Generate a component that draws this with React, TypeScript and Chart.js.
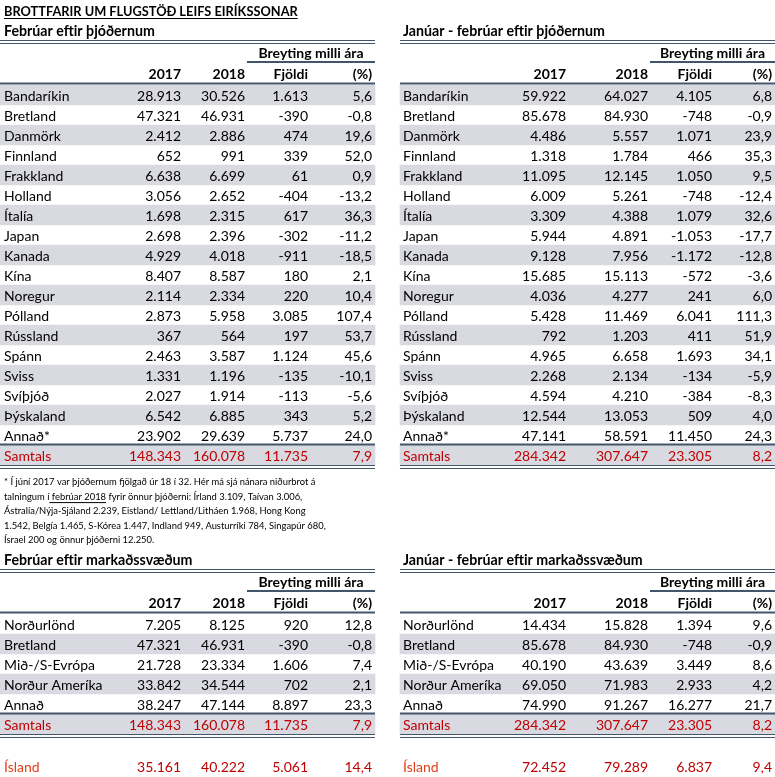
import React, { useEffect, useRef } from "react";
import { Chart, registerables } from "chart.js";

Chart.register(...registerables);

// ---------- DATA ----------
const TITLE = "BROTTFARIR UM FLUGSTÖÐ LEIFS EIRÍKSSONAR";
const SECTION_TITLES = [
  ["Febrúar eftir þjóðernum", "Janúar - febrúar eftir þjóðernum"],
  ["Febrúar eftir markaðssvæðum", "Janúar - febrúar eftir markaðssvæðum"],
];
const CHANGE_HEADER = "Breyting milli ára";
const COLUMN_HEADERS = ["2017", "2018", "Fjöldi", "(%)"];
const TOTAL_LABEL = "Samtals";
const ICELAND_LABEL = "Ísland";

const nationalities = [
  "Bandaríkin", "Bretland", "Danmörk", "Finnland", "Frakkland", "Holland", "Ítalía",
  "Japan", "Kanada", "Kína", "Noregur", "Pólland", "Rússland", "Spánn", "Sviss",
  "Svíþjóð", "Þýskaland", "Annað*",
];
const febNat2017 = [28913, 47321, 2412, 652, 6638, 3056, 1698, 2698, 4929, 8407, 2114, 2873, 367, 2463, 1331, 2027, 6542, 23902];
const febNat2018 = [30526, 46931, 2886, 991, 6699, 2652, 2315, 2396, 4018, 8587, 2334, 5958, 564, 3587, 1196, 1914, 6885, 29639];
const febNatDiff = [1613, -390, 474, 339, 61, -404, 617, -302, -911, 180, 220, 3085, 197, 1124, -135, -113, 343, 5737];
const febNatPct = [5.6, -0.8, 19.6, 52.0, 0.9, -13.2, 36.3, -11.2, -18.5, 2.1, 10.4, 107.4, 53.7, 45.6, -10.1, -5.6, 5.2, 24.0];
const febTotal = [148343, 160078, 11735, 7.9];

const janFebNat2017 = [59922, 85678, 4486, 1318, 11095, 6009, 3309, 5944, 9128, 15685, 4036, 5428, 792, 4965, 2268, 4594, 12544, 47141];
const janFebNat2018 = [64027, 84930, 5557, 1784, 12145, 5261, 4388, 4891, 7956, 15113, 4277, 11469, 1203, 6658, 2134, 4210, 13053, 58591];
const janFebNatDiff = [4105, -748, 1071, 466, 1050, -748, 1079, -1053, -1172, -572, 241, 6041, 411, 1693, -134, -384, 509, 11450];
const janFebNatPct = [6.8, -0.9, 23.9, 35.3, 9.5, -12.4, 32.6, -17.7, -12.8, -3.6, 6.0, 111.3, 51.9, 34.1, -5.9, -8.3, 4.0, 24.3];
const janFebTotal = [284342, 307647, 23305, 8.2];

const markets = ["Norðurlönd", "Bretland", "Mið-/S-Evrópa", "Norður Ameríka", "Annað"];
const febMkt2017 = [7205, 47321, 21728, 33842, 38247];
const febMkt2018 = [8125, 46931, 23334, 34544, 47144];
const febMktDiff = [920, -390, 1606, 702, 8897];
const febMktPct = [12.8, -0.8, 7.4, 2.1, 23.3];

const janFebMkt2017 = [14434, 85678, 40190, 69050, 74990];
const janFebMkt2018 = [15828, 84930, 43639, 71983, 91267];
const janFebMktDiff = [1394, -748, 3449, 2933, 16277];
const janFebMktPct = [9.6, -0.9, 8.6, 4.2, 21.7];

const febIceland = [35161, 40222, 5061, 14.4];
const janFebIceland = [72452, 79289, 6837, 9.4];

const FOOTNOTE: string[][] = [
  ["* Í júní 2017 var þjóðernum fjölgað úr 18 í 32. Hér má sjá nánara niðurbrot á"],
  ["talningum í", " febrúar 2018", " fyrir önnur þjóðerni: Írland 3.109, Taívan 3.006,"],
  ["Ástralía/Nýja-Sjáland 2.239, Eistland/ Lettland/Litháen 1.968, Hong Kong"],
  ["1.542, Belgía 1.465, S-Kórea 1.447, Indland 949, Austurríki 784, Singapúr 680,"],
  ["Ísrael 200 og önnur þjóðerni 12.250."],
];

// ---------- STYLE / LAYOUT ----------
const W = 775;
const H = 777;
const FONT = "Lato, 'Open Sans', sans-serif";
const BODY_SIZE = 14;
const STRIPE = "#d9d9e1";
const RULE = "#44546a";
const RED = "#c00000";
const ISL_RED = "#e2401a";
const ROW_H = 20;

const PANELS = [
  { x0: 0, x1: 375, labelX: 4, cols: [181, 245, 308, 372], brL: 247 },
  { x0: 400, x1: 775, labelX: 403, cols: [566, 648, 712, 772], brL: 650 },
];
const SECTIONS = [
  { yOff: 0, stripeParity: 0 },
  { yOff: 529, stripeParity: 1 },
];
const ROW0_TOP = 85;

function fmtInt(n: number): string {
  const s = Math.abs(Math.round(n)).toString().replace(/\B(?=(\d{3})+(?!\d))/g, ".");
  return (n < 0 ? "-" : "") + s;
}
function fmtPct(n: number): string {
  return n.toFixed(1).replace(".", ",");
}

type TableSection = {
  labels: string[];
  panels: { cols: number[][]; total: number[] }[];
};

const TABLES: TableSection[] = [
  {
    labels: nationalities,
    panels: [
      { cols: [febNat2017, febNat2018, febNatDiff, febNatPct], total: febTotal },
      { cols: [janFebNat2017, janFebNat2018, janFebNatDiff, janFebNatPct], total: janFebTotal },
    ],
  },
  {
    labels: markets,
    panels: [
      { cols: [febMkt2017, febMkt2018, febMktDiff, febMktPct], total: febTotal },
      { cols: [janFebMkt2017, janFebMkt2018, janFebMktDiff, janFebMktPct], total: janFebTotal },
    ],
  },
];
const ICELAND = [febIceland, janFebIceland];

// stripes as floating horizontal bars
function buildStripes() {
  const pts: { x: [number, number]; y: number }[] = [];
  TABLES.forEach((t, si) => {
    const sec = SECTIONS[si];
    const n = t.labels.length + 1; // + total row
    for (let i = 0; i < n; i++) {
      const isTotal = i === t.labels.length;
      if (isTotal || i % 2 === sec.stripeParity) {
        PANELS.forEach((p) => {
          pts.push({ x: [p.x0, p.x1], y: sec.yOff + ROW0_TOP + ROW_H * i + ROW_H / 2 });
        });
      }
    }
  });
  return pts;
}

const tablePlugin = {
  id: "tableText",
  afterDatasetsDraw(chart: any) {
    const { ctx } = chart;
    const xs = chart.scales.x;
    const ys = chart.scales.y;
    const px = (v: number) => xs.getPixelForValue(v);
    const py = (v: number) => ys.getPixelForValue(v);

    const text = (s: string, x: number, y: number, opts: any = {}) => {
      ctx.save();
      ctx.font = `${opts.bold ? "bold " : ""}${opts.size || BODY_SIZE}px ${FONT}`;
      ctx.fillStyle = opts.color || "#000";
      ctx.textAlign = opts.align || "left";
      ctx.textBaseline = "middle";
      ctx.fillText(s, px(x), py(y));
      const w = ctx.measureText(s).width;
      ctx.restore();
      return w;
    };
    const hline = (x0: number, x1: number, y: number, w: number, color = RULE) => {
      ctx.save();
      ctx.strokeStyle = color;
      ctx.lineWidth = w;
      ctx.beginPath();
      ctx.moveTo(px(x0), py(y));
      ctx.lineTo(px(x1), py(y));
      ctx.stroke();
      ctx.restore();
    };

    // Title
    const tw = text(TITLE, 4, 11.5, { bold: true, size: 12.8 });
    hline(4, 4 + tw, 18.5, 1, "#000");

    TABLES.forEach((t, si) => {
      const off = SECTIONS[si].yOff;
      PANELS.forEach((p, pi) => {
        text(SECTION_TITLES[si][pi], p.labelX, off + 31.5, { bold: true, size: 14.2 });
        hline(p.x0, p.x1, off + 40.5, 1);
        hline(p.x0, p.x1, off + 43.5, 1);
        text(CHANGE_HEADER, (p.brL + p.x1) / 2, off + 53, { bold: true, align: "center" });
        hline(p.brL, p.x1, off + 62, 2);
        COLUMN_HEADERS.forEach((h, ci) => {
          text(h, p.cols[ci], off + 74, { bold: true, align: "right" });
        });
        hline(p.x0, p.x1, off + 83.5, 2);

        const pd = t.panels[pi];
        t.labels.forEach((lab, i) => {
          const yc = off + ROW0_TOP + ROW_H * i + ROW_H / 2 + 1;
          text(lab, p.labelX, yc);
          pd.cols.forEach((col, ci) => {
            const v = col[i];
            text(ci === 3 ? fmtPct(v) : fmtInt(v), p.cols[ci], yc, { align: "right" });
          });
        });
        const ti = t.labels.length;
        const tTop = off + ROW0_TOP + ROW_H * ti;
        const yc = tTop + ROW_H / 2 + 1;
        text(TOTAL_LABEL, p.labelX, yc, { color: RED });
        pd.total.forEach((v, ci) => {
          text(ci === 3 ? fmtPct(v) : fmtInt(v), p.cols[ci], yc, { align: "right", color: RED });
        });
        hline(p.x0, p.x1, tTop - 0.5, 2);
        hline(p.x0, p.x1, tTop + ROW_H + 0.5, 1);
        hline(p.x0, p.x1, tTop + ROW_H + 3.5, 1);
      });
    });

    // Iceland row
    PANELS.forEach((p, pi) => {
      const yc = 767;
      text(ICELAND_LABEL, p.labelX, yc, { color: ISL_RED });
      ICELAND[pi].forEach((v, ci) => {
        text(ci === 3 ? fmtPct(v) : fmtInt(v), p.cols[ci], yc, { align: "right", color: RED });
      });
    });

    // Footnote
    FOOTNOTE.forEach((segs, li) => {
      let x = 4;
      const y = 482 + li * 14.6;
      segs.forEach((s, k) => {
        const w = text(s, x, y, { size: 9.4 });
        if (segs.length > 1 && k === 1) hline(x, x + w, y + 6, 1, "#000");
        x += w;
      });
    });
  },
};

export default function App() {
  const ref = useRef<HTMLCanvasElement | null>(null);
  useEffect(() => {
    if (!ref.current) return;
    const chart = new Chart(ref.current, {
      type: "bar",
      data: {
        datasets: [
          {
            data: buildStripes() as any,
            backgroundColor: STRIPE,
            borderWidth: 0,
            barThickness: ROW_H,
          } as any,
        ],
      },
      options: {
        indexAxis: "y",
        animation: false,
        responsive: false,
        devicePixelRatio: 1,
        layout: { padding: 0 },
        plugins: { legend: { display: false }, tooltip: { enabled: false }, title: { display: false } },
        events: [],
        scales: {
          x: { type: "linear", min: 0, max: W, display: false },
          y: { type: "linear", min: 0, max: H, reverse: true, display: false, offset: false },
        },
      },
      plugins: [tablePlugin],
    });
    return () => chart.destroy();
  }, []);
  return (
    <div style={{ position: "absolute", left: 0, top: 0, width: W, height: H, background: "#fff" }}>
      <canvas ref={ref} width={W} height={H} style={{ width: W, height: H }} />
    </div>
  );
}
